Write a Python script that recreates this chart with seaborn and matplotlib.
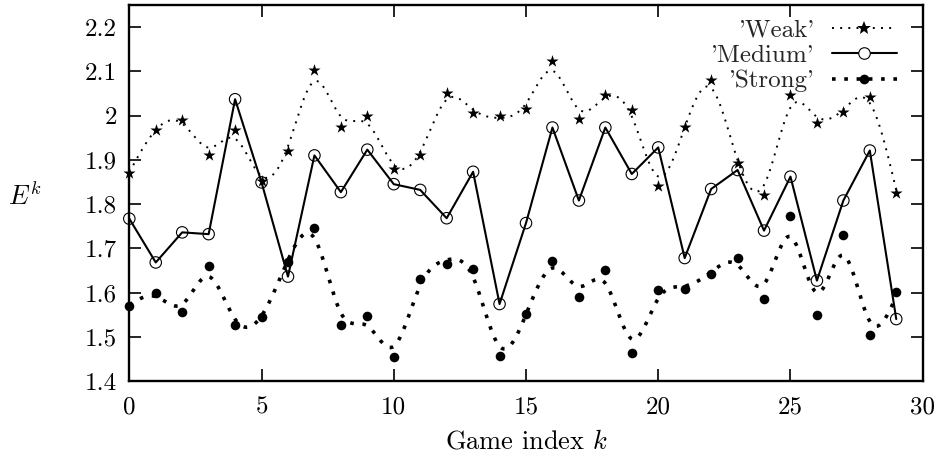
import numpy as np
import pandas as pd
import matplotlib
matplotlib.use("Agg")
import matplotlib.pyplot as plt
from matplotlib.lines import Line2D
import seaborn as sns

# ---- data ----
games = list(range(30))
weak = [1.870, 1.968, 1.990, 1.911, 1.968, 1.851, 1.920, 2.104, 1.974, 2.000,
        1.880, 1.911, 2.051, 2.006, 1.998, 2.015, 2.124, 1.993, 2.047, 2.013,
        1.840, 1.975, 2.081, 1.893, 1.821, 2.047, 1.983, 2.009, 2.042, 1.825]
medium = [1.767, 1.668, 1.736, 1.732, 2.037, 1.849, 1.636, 1.910, 1.827, 1.923,
          1.845, 1.832, 1.768, 1.873, 1.574, 1.757, 1.973, 1.808, 1.973, 1.868,
          1.928, 1.678, 1.834, 1.877, 1.740, 1.862, 1.627, 1.808, 1.921, 1.540]
strong = [1.570, 1.600, 1.555, 1.659, 1.527, 1.545, 1.670, 1.745, 1.527, 1.548,
          1.455, 1.631, 1.665, 1.653, 1.457, 1.552, 1.672, 1.591, 1.650, 1.464,
          1.606, 1.608, 1.643, 1.679, 1.586, 1.772, 1.550, 1.731, 1.504, 1.601]
series_labels = ["'Weak'", "'Medium'", "'Strong'"]
xticks = [0, 5, 10, 15, 20, 25, 30]
xtick_labels = ["0", "5", "10", "15", "20", "25", "30"]
yticks = [1.4, 1.5, 1.6, 1.7, 1.8, 1.9, 2.0, 2.1, 2.2]
ytick_labels = ["1.4", "1.5", "1.6", "1.7", "1.8", "1.9", "2", "2.1", "2.2"]


def smoothing_spline(x, y, lam=1.0, npts=800):
    """Natural cubic smoothing spline (gnuplot 'smooth acsplines' style)."""
    x = np.asarray(x, float)
    y = np.asarray(y, float)
    n = len(y)
    Q = np.zeros((n, n - 2))
    R = np.zeros((n - 2, n - 2))
    for j in range(n - 2):
        Q[j, j] = 1.0
        Q[j + 1, j] = -2.0
        Q[j + 2, j] = 1.0
        R[j, j] = 2.0 / 3.0
        if j + 1 < n - 2:
            R[j, j + 1] = R[j + 1, j] = 1.0 / 6.0
    gamma = np.linalg.solve(R + lam * Q.T @ Q, Q.T @ y)
    g = y - lam * Q @ gamma
    gam = np.concatenate([[0.0], gamma, [0.0]])
    xs = np.linspace(x[0], x[-1], npts)
    i = np.minimum(np.floor(xs - x[0]).astype(int), n - 2)
    a = xs - x[i]
    b = x[i + 1] - xs
    vals = a * g[i + 1] + b * g[i] - a * b / 6.0 * ((1 + a) * gam[i + 1] + (1 + b) * gam[i])
    return xs, vals


sns.set_theme(style="ticks")
plt.rcParams["font.family"] = ["cmr10", "DejaVu Serif"]
plt.rcParams["mathtext.fontset"] = "cm"
plt.rcParams["axes.formatter.use_mathtext"] = True
plt.rcParams["axes.unicode_minus"] = False

fig = plt.figure(figsize=(9.37, 4.66), dpi=100)
ax = fig.add_axes([129.3 / 937, 1 - 381 / 466, (922.7 - 129.3) / 937, (381 - 5) / 466])

weak_dash = (0, (1, 3.2))
strong_dash = (0, (1, 2.4))
LAM = 0.02

df = pd.DataFrame({"k": games, "weak": weak, "medium": medium, "strong": strong})

# smoothed curves for weak & strong
xw, yw = smoothing_spline(games, weak, LAM)
xs_, ys_ = smoothing_spline(games, strong, LAM)
sns.lineplot(x=xw, y=yw, ax=ax, color="black", lw=1.4, linestyle=weak_dash)
sns.lineplot(x=xs_, y=ys_, ax=ax, color="black", lw=2.6, linestyle=strong_dash)

# medium: straight segments
sns.lineplot(data=df, x="k", y="medium", ax=ax, color="black", lw=1.5)

# markers
sns.scatterplot(data=df, x="k", y="weak", ax=ax, marker="*", s=85, color="black",
                edgecolor="black", linewidth=0, clip_on=False, zorder=5)
sns.scatterplot(data=df, x="k", y="medium", ax=ax, marker="o", s=68, facecolor="none",
                edgecolor="black", linewidth=0.8, clip_on=False, zorder=5)
sns.scatterplot(data=df, x="k", y="strong", ax=ax, marker="o", s=48, color="black",
                edgecolor="black", linewidth=0, clip_on=False, zorder=5)

ax.set_xlim(0, 30)
ax.set_ylim(1.4, 2.25)
ax.set_xticks(xticks)
ax.set_xticklabels(xtick_labels)
ax.set_yticks(yticks)
ax.set_yticklabels(ytick_labels)
ax.tick_params(direction="in", length=8.5, width=1.2, top=True, right=True,
               labelsize=18, colors="black")
ax.tick_params(axis="y", pad=9)
ax.tick_params(axis="x", pad=11)
for sp in ax.spines.values():
    sp.set_linewidth(1.7)
    sp.set_color("black")
    sp.set_visible(True)

ax.set_xlabel("Game index $k$", fontsize=19, labelpad=8, color="black")
ax.set_ylabel("$E^k$", fontsize=19, rotation=0, color="black")
ax.yaxis.set_label_coords(-0.131, 0.455)

handles = [
    Line2D([], [], color="black", lw=1.4, linestyle=weak_dash, marker="*",
           markersize=10, markeredgewidth=0),
    Line2D([], [], color="black", lw=1.5, marker="o", markersize=8.3,
           markerfacecolor="white", markeredgewidth=0.8),
    Line2D([], [], color="black", lw=2.6, linestyle=strong_dash, marker="o",
           markersize=7, markeredgewidth=0),
]
leg = ax.legend(handles, series_labels, loc="upper right", markerfirst=False,
                frameon=False, fontsize=18, handlelength=2.6, handletextpad=0.68,
                labelspacing=0.12, borderpad=0, borderaxespad=0, numpoints=1,
                bbox_to_anchor=(897 / 937, 1 - 19 / 466), bbox_transform=fig.transFigure)

fig.savefig("out.png", dpi=100)
